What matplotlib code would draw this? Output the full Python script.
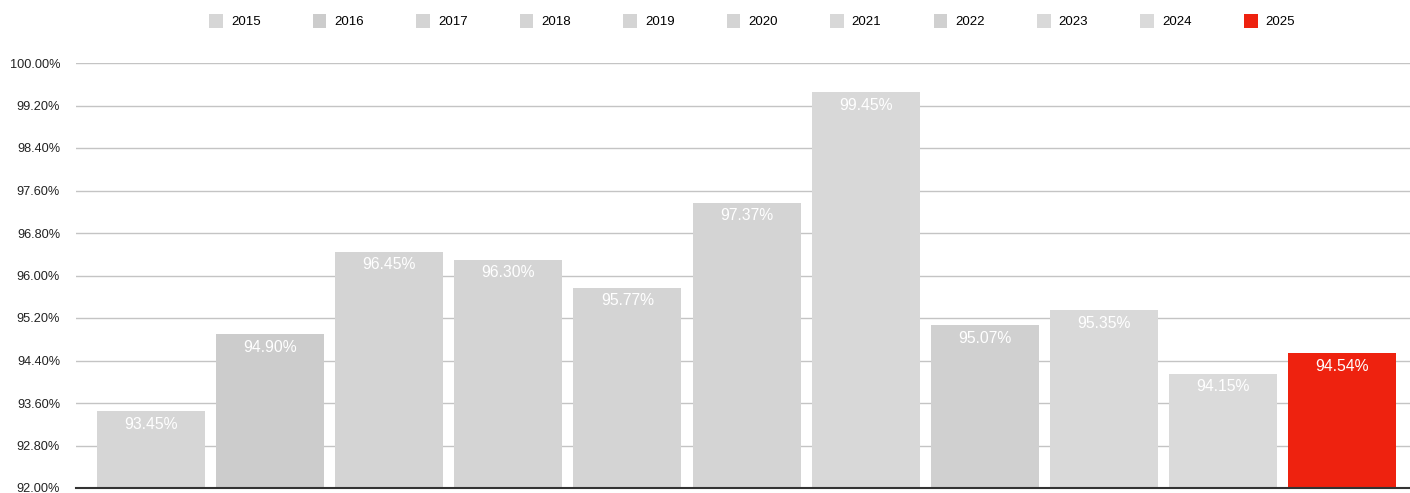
import matplotlib.pyplot as plt
from matplotlib.patches import Patch
from matplotlib.ticker import FuncFormatter, MultipleLocator

plt.rcParams['font.family'] = ['Liberation Sans', 'DejaVu Sans']

# data
years = ['2015', '2016', '2017', '2018', '2019', '2020', '2021', '2022', '2023', '2024', '2025']
values = [93.45, 94.90, 96.45, 96.30, 95.77, 97.37, 99.45, 95.07, 95.35, 94.15, 94.54]
colors = ['#d6d6d6', '#cccccc', '#d4d4d4', '#d4d4d4', '#d4d4d4', '#d4d4d4',
          '#d8d8d8', '#d0d0d0', '#d9d9d9', '#dadada', '#ee220f']

fig = plt.figure(figsize=(14.1, 4.93), dpi=100)
ax = fig.add_axes([76 / 1410, 5 / 493, 1 - 76 / 1410, (488 - 63) / 493])

x = list(range(len(years)))
bars = ax.bar(x, values, width=0.907, color=colors, zorder=2)

# value labels inside the top of each bar
for xi, v in zip(x, values):
    ax.annotate(f'{v:.2f}%', (xi, v), xytext=(0, -9.5), textcoords='offset points',
                ha='center', va='center', color='white', fontsize=11.3, zorder=3)

ax.set_ylim(92, 100)
ax.set_xlim(-0.63, 10.57)
ax.yaxis.set_major_locator(MultipleLocator(0.8))
ax.yaxis.set_major_formatter(FuncFormatter(lambda v, p: f'{v:.2f}%'))
ax.grid(axis='y', color='#c4c4c4', linewidth=1.0, zorder=0)
ax.set_axisbelow(True)
ax.set_xticks([])
ax.tick_params(axis='y', length=0, pad=11.5, labelsize=9.2, labelcolor='#222222')
for s in ['top', 'right', 'left']:
    ax.spines[s].set_visible(False)
ax.spines['bottom'].set_color('#333333')
ax.spines['bottom'].set_linewidth(1.5)
ax.spines['bottom'].set_zorder(4)

handles = [Patch(facecolor=c, edgecolor='none') for c in colors]
fig.legend(handles, years, loc='center', bbox_to_anchor=(752 / 1410, 1 - 21 / 493),
           ncol=len(years), frameon=False, fontsize=9.5, handlelength=1.05,
           handleheight=1.3, handletextpad=0.6, columnspacing=3.95)

fig.savefig('out.png', dpi=100)
